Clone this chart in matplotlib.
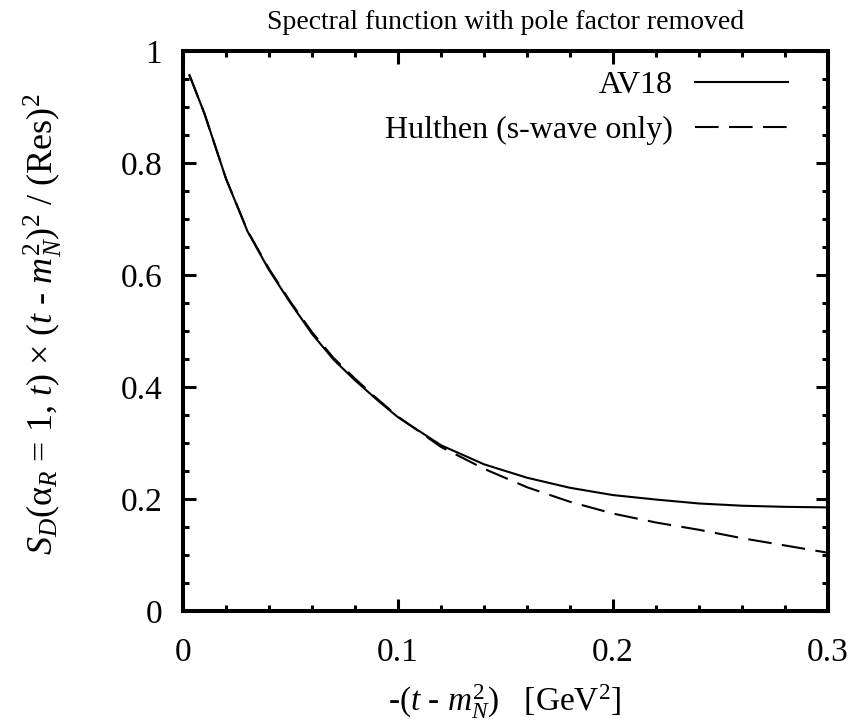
import matplotlib
matplotlib.use("Agg")
import matplotlib.pyplot as plt
from matplotlib.ticker import MultipleLocator, FuncFormatter

plt.rcParams['font.family'] = ['Liberation Serif', 'DejaVu Serif']
plt.rcParams['mathtext.fontset'] = 'custom'
plt.rcParams['mathtext.rm'] = 'Liberation Serif'
plt.rcParams['mathtext.it'] = 'Liberation Serif:italic'
plt.rcParams['mathtext.bf'] = 'Liberation Serif:bold'
plt.rcParams['lines.scale_dashes'] = False

# data
t_vals = [0.003, 0.01, 0.02, 0.03, 0.04, 0.05, 0.06, 0.07, 0.08, 0.09, 0.10,
          0.12, 0.14, 0.16, 0.18, 0.20, 0.22, 0.24, 0.26, 0.28, 0.30]
av18 = [0.957, 0.888, 0.772, 0.678, 0.609, 0.550, 0.495, 0.449, 0.412, 0.378, 0.346,
        0.296, 0.262, 0.238, 0.220, 0.207, 0.199, 0.192, 0.188, 0.186, 0.185]
hulthen = [0.957, 0.888, 0.772, 0.679, 0.611, 0.552, 0.498, 0.452, 0.415, 0.380, 0.347,
           0.293, 0.254, 0.221, 0.195, 0.174, 0.158, 0.145, 0.130, 0.117, 0.104]
labels = ['AV18', 'Hulthen (s-wave only)']
title = 'Spectral function with pole factor removed'
xlabel = r'-($t$ - $m_N^2$)   [GeV$^2$]'
ylabel = r'$S_D$(α$_R$ = 1, $t$) × ($t$ - $m_N^2$)$^2$ / (Res)$^2$'

W, H = 856, 720
L, R, T, B = 183, 828, 51, 611
fig = plt.figure(figsize=(W / 100, H / 100), dpi=100)
ax = fig.add_axes([L / W, 1 - B / H, (R - L) / W, (B - T) / H])

ax.plot(t_vals, av18, color='black', lw=1.5, label=labels[0])
ax.plot(t_vals, hulthen, color='black', lw=1.5, dashes=(17, 7.5), label=labels[1])

ax.set_xlim(0, 0.3)
ax.set_ylim(0, 1)
ax.xaxis.set_major_locator(MultipleLocator(0.1))
ax.xaxis.set_minor_locator(MultipleLocator(0.02))
ax.yaxis.set_major_locator(MultipleLocator(0.2))
ax.yaxis.set_minor_locator(MultipleLocator(0.05))
fmt = FuncFormatter(lambda v, p: '%g' % round(v, 3))
ax.xaxis.set_major_formatter(fmt)
ax.yaxis.set_major_formatter(fmt)
ax.tick_params(which='both', direction='in', top=True, right=True, width=2.2,
               labelsize=24)
ax.tick_params(which='major', length=9)
ax.tick_params(which='minor', length=4.5)
ax.tick_params(axis='x', which='major', pad=19)
ax.tick_params(axis='y', which='major', pad=15)
for s in ax.spines.values():
    s.set_linewidth(2.9)

ax.set_title(title, fontsize=20, pad=16)
fig.text(505 / W, 1 - 711 / H, xlabel, fontsize=24, ha='center', va='baseline')
fig.text(43 / W, 1 - 324 / H, ylabel, fontsize=26, ha='center', va='center',
         rotation=90)

ax.legend(loc='upper right', bbox_to_anchor=(1 - 40 / (R - L), 1 - 20 / (B - T)),
          frameon=False, markerfirst=False, fontsize=23, handlelength=2.9,
          handletextpad=0.7, labelspacing=0.47, borderpad=0, borderaxespad=0)

fig.savefig('out.png', dpi=100)
